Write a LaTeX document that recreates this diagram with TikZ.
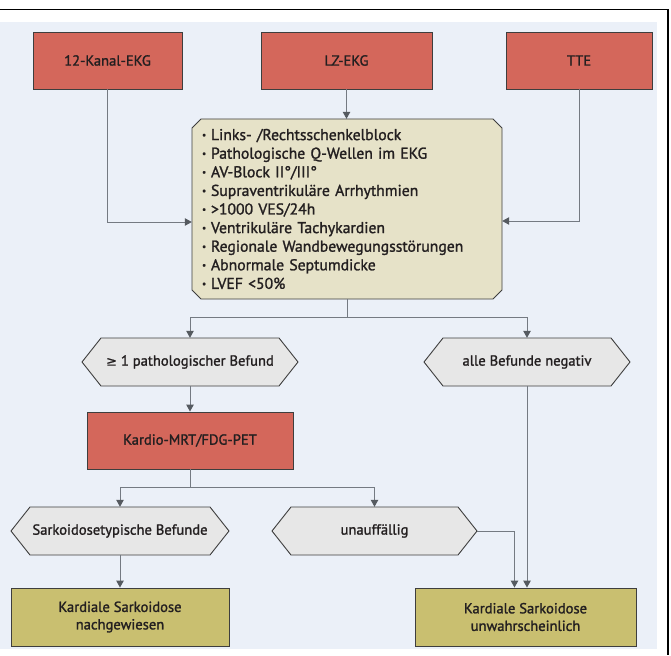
\documentclass[tikz,border=0pt]{standalone}
\usepackage{fontspec}
\usepackage{graphicx}
\setmainfont{PT Sans}[FakeBold=1.4]
\newfontfamily\symf{DejaVu Sans}[FakeBold=1]
\usetikzlibrary{arrows.meta}
\definecolor{bgc}{HTML}{EBF0F8}
\definecolor{redc}{HTML}{D4675B}
\definecolor{tanc}{HTML}{E6E2C8}
\definecolor{hexc}{HTML}{E7E7E7}
\definecolor{olivec}{HTML}{C9BF70}
\definecolor{boxline}{HTML}{3E3E3E}
\definecolor{linec}{HTML}{747A82}
\definecolor{tipc}{HTML}{555A60}
\definecolor{txt}{HTML}{231F20}
\newcommand\lblfont{\fontsize{14.6}{17.5}\selectfont}
\newcommand\bulfont{\fontsize{15.7}{18.6}\selectfont}
\newcommand\bul{\makebox[9pt][l]{\raisebox{0.25ex}{\scalebox{0.6}{•}}}}
\newcommand\hexnode[6]{%
  \draw[hexshape] (#2-#4/2,#3) -- (#2-#4/2+19,#3-#5/2) -- (#2+#4/2-19,#3-#5/2)
    -- (#2+#4/2,#3) -- (#2+#4/2-19,#3+#5/2) -- (#2-#4/2+19,#3+#5/2) -- cycle;
  \node[hextext, minimum width=#4pt, minimum height=#5pt] (#1) at (#2,#3) {#6};}
\begin{document}
\begin{tikzpicture}[x=1pt,y=-1pt,
  redbox/.style={draw=boxline, fill=redc, line width=0.9pt, minimum height=57pt,
    font=\lblfont, text=txt, inner sep=0pt},
  olivebox/.style={draw=boxline, fill=olivec, line width=0.9pt, minimum height=58pt,
    font=\lblfont, text=txt, align=center, inner sep=0pt},
  hexshape/.style={draw=boxline, fill=hexc, line width=0.9pt},
  hextext/.style={inner sep=0pt, font=\lblfont, text=txt},
  tanshape/.style={draw=boxline, fill=tanc, line width=0.9pt},
  tantext/.style={minimum width=310pt, minimum height=180pt, inner xsep=10pt, inner ysep=0pt,
    text width=290pt, align=left, font=\bulfont, text=txt},
  conn/.style={draw=linec, line width=1pt,
    -{Triangle[length=7pt,width=7.5pt,fill=tipc,color=tipc]}}]
\useasboundingbox (0,0) rectangle (671,655);
\fill[bgc] (0,22) rectangle (657,649);
\draw[line width=1.3pt] (0,9.5) -- (668,9.5) -- (668,655);

\node[redbox, minimum width=149pt] (k12) at (107.5,60.5) {12-Kanal-EKG};
\node[redbox, minimum width=171pt] (lz) at (346.5,60.5) {LZ-EKG};
\node[redbox, minimum width=146pt] (tte) at (579,60.5) {TTE};

\draw[tanshape] (201,119) -- (493,119) -- (502,128) -- (502,290) -- (493,299)
  -- (201,299) -- (192,290) -- (192,128) -- cycle;
\node[tantext] (tan) at (347,209) {%
\bul Links- /Rechtsschenkelblock\\
\bul Pathologische Q-Wellen im EKG\\
\bul AV-Block II°/III°\\
\bul Supraventrikuläre Arrhythmien\\
\bul >1000 VES/24h\\
\bul Ventrikuläre Tachykardien\\
\bul Regionale Wandbewegungsstörungen\\
\bul Abnormale Septumdicke\\
\bul LVEF <50\%};

\hexnode{h1}{190}{362}{216}{48}{{\symf\fontsize{13}{14}\selectfont ≥} 1 pathologischer Befund}
\hexnode{h2}{527}{362}{206}{48}{alle Befunde negativ}

\node[redbox, minimum width=206pt] (kmrt) at (190,440.5) {Kardio-MRT/FDG-PET};

\hexnode{h3}{120}{531}{218}{48}{Sarkoidosetypische Befunde}
\hexnode{h4}{374.5}{531}{205}{48}{unauffällig}

\node[olivebox, minimum width=218pt] (nach) at (120,617) {Kardiale Sarkoidose\\nachgewiesen};
\node[olivebox, minimum width=221pt] (unw) at (525.5,617) {Kardiale Sarkoidose\\unwahrscheinlich};

\draw[conn] (k12.south) |- ([yshift=-13pt]tan.west);
\draw[conn] (tte.south) |- ([yshift=-12pt]tan.east);
\draw[conn] (lz.south) -- (lz.south |- tan.north);
\draw[conn] (tan.south) -- ++(0,18) -| (h1.north);
\draw[conn] (tan.south) -- ++(0,18) -| (h2.north);
\draw[conn] (h1.south) -- (kmrt.north);
\draw[conn] (kmrt.south) -- ++(0,18) -| (h3.north);
\draw[conn] (kmrt.south) -- ++(0,18) -| (h4.north);
\draw[conn] (h3.south) -- (nach.north);
\draw[conn] (h4.east) -| ([xshift=-11pt]unw.north);
\draw[conn] (h2.south) -- (h2.south |- unw.north);
\end{tikzpicture}
\end{document}
